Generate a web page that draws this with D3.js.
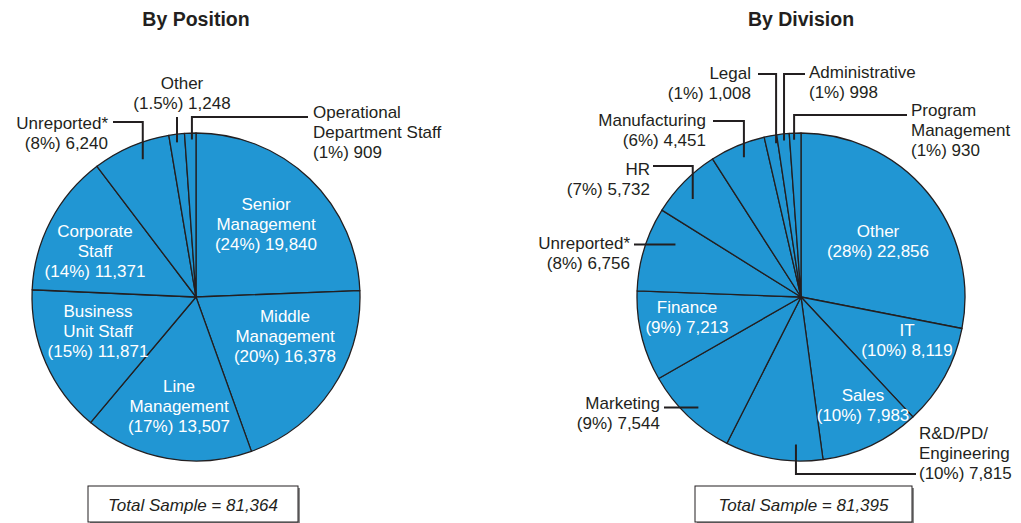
<!DOCTYPE html>
<html>
<head>
<meta charset="utf-8">
<script src="https://cdn.jsdelivr.net/npm/d3@7"></script>
<style>
  body { margin: 0; background: #fff; }
  svg text { font-family: 'Liberation Sans', Arial, Helvetica, sans-serif; fill: #231f20; }
</style>
</head>
<body>
<script>
// values as printed on the chart
const positionNames = ['Senior\nManagement', 'Middle\nManagement', 'Line\nManagement', 'Business\nUnit Staff', 'Corporate\nStaff', 'Unreported*', 'Other', 'Operational\nDepartment Staff'];
const positionValues = [19840, 16378, 13507, 11871, 11371, 6240, 1248, 909];
const positionPct = ['24%', '20%', '17%', '15%', '14%', '8%', '1.5%', '1%'];
const positionTotal = 81364;

const divisionNames = ['Other', 'IT', 'Sales', 'R&D/PD/\nEngineering', 'Marketing', 'Finance', 'Unreported*', 'HR', 'Manufacturing', 'Legal', 'Administrative', 'Program\nManagement'];
const divisionValues = [22856, 8119, 7983, 7815, 7544, 7213, 6756, 5732, 4451, 1008, 998, 930];
const divisionPct = ['28%', '10%', '10%', '10%', '9%', '9%', '8%', '7%', '6%', '1%', '1%', '1%'];
const divisionTotal = 81395;

// label placement (t = position along slice, k = fraction of radius for leader start)
const positionLayout = [
  {x: 266, y: 210},
  {x: 285, y: 322},
  {x: 179, y: 392},
  {x: 98, y: 317},
  {x: 95, y: 237},
  {x: 108, y: 129, anchor: 'end', t: 0.58, k: 0.90, ly: 122, lx: 113},
  {x: 182, y: 89, anchor: 'middle', t: 0.46, k: 0.95, ly: 117, lx: null},
  {x: 313, y: 118, anchor: 'start', t: 0.63, k: 0.96, ly: 117, lx: 308}
];

const divisionLayout = [
  {x: 878, y: 237},
  {x: 907, y: 336},
  {x: 863, y: 401},
  {x: 919, y: 439, anchor: 'start', t: 0.28, k: 0.90, ly: 474, lx: 916},
  {x: 660, y: 409, anchor: 'end', t: 0.48, k: 0.92, ly: null, lx: 664},
  {x: 687, y: 313},
  {x: 630, y: 249, anchor: 'end', t: 0.69, k: 0.83, ly: null, lx: 634},
  {x: 650, y: 175, anchor: 'end', t: 0.40, k: 0.89, ly: 166, lx: 653},
  {x: 706, y: 126, anchor: 'end', t: 0.53, k: 0.92, ly: 121, lx: 713},
  {x: 751, y: 79, anchor: 'end', t: 0.85, k: 0.95, ly: 74, lx: 758},
  {x: 809, y: 78, anchor: 'start', t: 0.53, k: 0.96, ly: 74, lx: 805},
  {x: 911, y: 116, anchor: 'start', t: 0.39, k: 0.96, ly: 115, lx: 907}
];

const width = 1021, height = 523;
const radius = 164;
const fillColor = '#2196d3';
const edgeColor = '#231f20';
const fmt = d3.format(',');

let svg = d3.select('body').append('svg')
  .attr('width', width)
  .attr('height', height);

function drawPie(opts) {
  let {cx, cy, title, names, values, pct, total, layout} = opts;

  let pie = d3.pie().sort(null).value(d => d)(values);
  let arc = d3.arc().innerRadius(0).outerRadius(radius);

  let g = svg.append('g');

  g.append('text')
    .attr('x', cx)
    .attr('y', 26)
    .attr('text-anchor', 'middle')
    .style('font-size', '19.5px')
    .style('font-weight', 'bold')
    .text(title);

  g.append('g')
    .attr('transform', `translate(${cx},${cy})`)
    .selectAll('path')
    .data(pie)
    .enter()
      .append('path')
      .attr('d', arc)
      .attr('fill', fillColor)
      .attr('stroke', edgeColor)
      .attr('stroke-width', 1.3)
      .attr('stroke-linejoin', 'round');

  // leader lines for labels that sit outside the pie
  pie.forEach((d, i) => {
    let l = layout[i];
    if (l.t === undefined) return;
    let a = d.startAngle + l.t * (d.endAngle - d.startAngle);
    let px = cx + l.k * radius * Math.sin(a);
    let py = cy - l.k * radius * Math.cos(a);
    let p = d3.path();
    p.moveTo(px, py);
    let ey = l.ly === null ? py : l.ly;
    p.lineTo(px, ey);
    if (l.lx !== null) p.lineTo(l.lx, ey);
    g.append('path')
      .attr('d', p.toString())
      .attr('fill', 'none')
      .attr('stroke', edgeColor)
      .attr('stroke-width', 2);
  });

  // slice labels
  pie.forEach((d, i) => {
    let l = layout[i];
    let inside = l.t === undefined;
    let lines = names[i].split('\n');
    lines.push('(' + pct[i] + ') ' + fmt(values[i]));
    let t = g.append('text')
      .attr('text-anchor', l.anchor || 'middle')
      .style('font-size', '17px');
    if (inside) t.style('fill', '#fff');
    lines.forEach((s, j) => {
      t.append('tspan')
        .attr('x', l.x)
        .attr('y', l.y + j * 20)
        .text(s);
    });
  });

  // total sample box
  let bw = opts.boxW, bx = cx - 108 + opts.boxDx, by = 486, bh = 36;
  g.append('rect')
    .attr('x', bx + 2).attr('y', by + 2)
    .attr('width', bw).attr('height', bh)
    .attr('fill', '#8a8a8a');
  g.append('rect')
    .attr('x', bx).attr('y', by)
    .attr('width', bw).attr('height', bh)
    .attr('fill', '#fff')
    .attr('stroke', edgeColor)
    .attr('stroke-width', 1);
  g.append('text')
    .attr('x', bx + bw / 2)
    .attr('y', by + 25)
    .attr('text-anchor', 'middle')
    .style('font-size', '17px')
    .style('font-style', 'italic')
    .text('Total Sample = ' + fmt(total));
}

drawPie({cx: 196, cy: 297, title: 'By Position', names: positionNames, values: positionValues,
  pct: positionPct, total: positionTotal, layout: positionLayout, boxW: 210, boxDx: 0});

drawPie({cx: 801, cy: 297, title: 'By Division', names: divisionNames, values: divisionValues,
  pct: divisionPct, total: divisionTotal, layout: divisionLayout, boxW: 217, boxDx: 2});
</script>
</body>
</html>
